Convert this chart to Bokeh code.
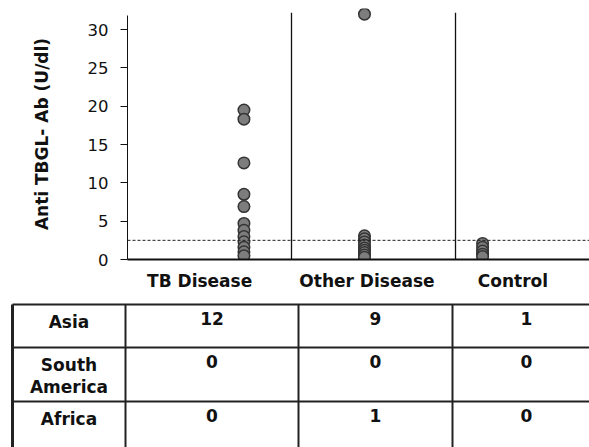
from bokeh.plotting import figure
from bokeh.models import Range1d, FixedTicker, Span
from bokeh.core.properties import value
from bokeh.embed import file_html
from bokeh.resources import INLINE

# ---------------- data ----------------
groups = ["TB Disease", "Other Disease", "Control"]
tb_values = [19.5, 18.3, 12.6, 8.5, 6.9, 4.7, 3.8, 3.0, 2.3, 1.6, 1.0, 0.5]
other_values = [32.0, 3.1, 2.7, 2.3, 1.9, 1.5, 1.2, 0.9, 0.6, 0.3]
control_values = [2.1, 1.6, 1.1, 0.7, 0.4]
cutoff = 2.5
y_ticks = [0, 5, 10, 15, 20, 25, 30]

regions = ["Asia", "South\nAmerica", "Africa"]
asia_counts = [12, 9, 1]
south_america_counts = [0, 0, 0]
africa_counts = [0, 1, 0]

# ---------------- layout constants ----------------
dot_x = [0.71, 1.445, 2.165]
label_x = [0.44, 1.46, 2.35]
separator_x = [1, 2]
separator_top = 32.2
FONT = "DejaVu Sans"
DOT_FILL = "#7d7d7d"
DOT_LINE = "#333333"

p = figure(width=589, height=298, x_range=Range1d(0, 2.817), y_range=Range1d(0, 32.74),
           output_backend="svg", toolbar_location=None,
           min_border_left=127, min_border_right=0, min_border_top=8, min_border_bottom=39)
p.outline_line_color = None
p.xgrid.visible = False
p.ygrid.visible = False
p.background_fill_color = "white"

p.segment(x0=separator_x, x1=separator_x, y0=[0] * len(separator_x),
          y1=[separator_top] * len(separator_x), line_color="#111111", line_width=1.3)
p.add_layout(Span(location=cutoff, dimension="width", line_color="#222222",
                  line_width=1, line_dash="3 2"))

for xs, vals in zip(dot_x, [tb_values, other_values, control_values]):
    p.scatter(x=[xs] * len(vals), y=vals, size=11.5, fill_color=DOT_FILL,
              line_color=DOT_LINE, line_width=1.5)

# y axis
p.yaxis.ticker = FixedTicker(ticks=y_ticks)
p.yaxis.bounds = (0, 31.8)
p.yaxis.axis_label = "Anti TBGL- Ab (U/dl)"
p.yaxis.axis_label_text_font = FONT
p.yaxis.axis_label_text_font_style = "bold"
p.yaxis.axis_label_text_font_size = "17px"
p.yaxis.axis_label_text_color = "#111111"
p.yaxis.axis_label_standoff = 33
p.yaxis.major_label_text_font = FONT
p.yaxis.major_label_text_font_size = "16.5px"
p.yaxis.major_label_text_color = "#111111"
p.yaxis.major_label_standoff = 12
p.yaxis.major_tick_out = 7
p.yaxis.major_tick_in = 0
p.yaxis.minor_tick_line_color = None
p.yaxis.axis_line_color = "#111111"
p.yaxis.major_tick_line_color = "#111111"

# x axis
p.xaxis.ticker = FixedTicker(ticks=label_x)
p.xaxis.major_label_overrides = {lx: g for lx, g in zip(label_x, groups)}
p.xaxis.major_label_text_font = FONT
p.xaxis.major_label_text_font_style = "bold"
p.xaxis.major_label_text_font_size = "17px"
p.xaxis.major_label_text_color = "#111111"
p.xaxis.major_label_standoff = 5
p.xaxis.major_tick_line_color = None
p.xaxis.minor_tick_line_color = None
p.xaxis.axis_line_color = "#111111"
p.xaxis.axis_line_width = 2

# ---------------- table ----------------
col_edges = [12, 125, 298, 452, 600]
row_edges = [304, 347, 401]
bottom = 450

t = figure(width=589, height=149, x_range=Range1d(0, 589), y_range=Range1d(447, 298),
           output_backend="svg", toolbar_location=None, min_border=0,
           x_axis_type=None, y_axis_type=None)
t.outline_line_color = None
t.xgrid.visible = False
t.ygrid.visible = False

t.segment(x0=[col_edges[0]] * len(row_edges), x1=[col_edges[-1]] * len(row_edges),
          y0=row_edges, y1=row_edges, line_color="#222222", line_width=2)
t.segment(x0=col_edges[:-1], x1=col_edges[:-1], y0=[row_edges[0]] * 4,
          y1=[bottom] * 4, line_color="#222222", line_width=[3, 2, 2, 2])

centers = [(a + b) / 2 for a, b in zip(col_edges[:-1], col_edges[1:])]
rows = [asia_counts, south_america_counts, africa_counts]
tx, ty, tt = [], [], []
for r, (name, counts) in enumerate(zip(regions, rows)):
    top = row_edges[r] + 7
    tx.append(centers[0]); ty.append(top); tt.append(name)
    for c, v in enumerate(counts):
        tx.append(centers[c + 1]); ty.append(top); tt.append(str(v))
t.text(x=tx, y=ty, text=tt, text_font=value(FONT), text_font_style="bold",
       text_font_size="17px", text_align="center", text_baseline="top",
       text_color="#111111", text_line_height=1.1)

open("out.html", "w").write(file_html([p, t], INLINE))
